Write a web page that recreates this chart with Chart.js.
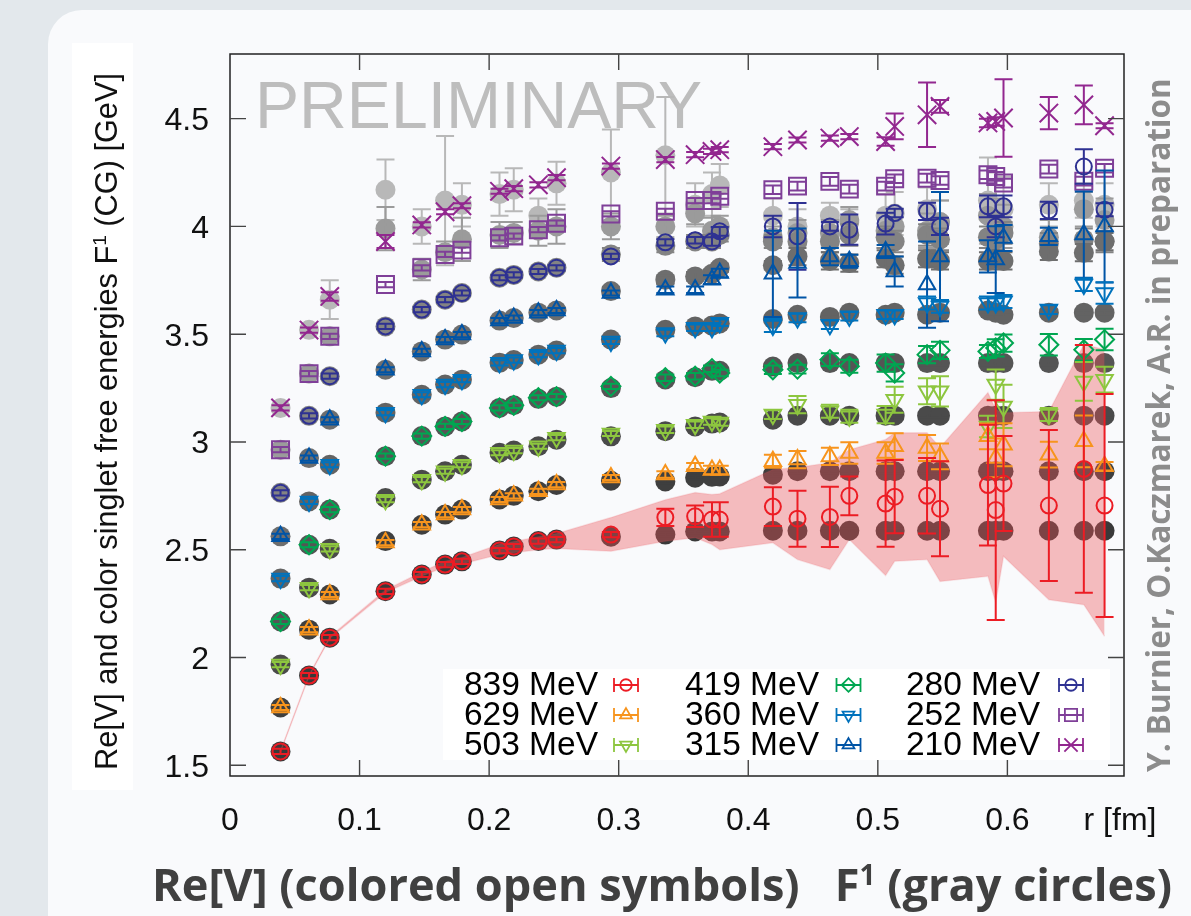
<!DOCTYPE html>
<html>
<head>
<meta charset="utf-8">
<script src="https://cdn.jsdelivr.net/npm/chart.js@4.4.1/dist/chart.umd.min.js"></script>
<style>
  html, body { margin: 0; padding: 0; background: #e3e8ec; }
  body { width: 1191px; height: 916px; position: relative; overflow: hidden; }
  #panel { position: absolute; left: 48px; top: 10px; width: 1200px; height: 960px;
           background: #f9fafc; border-top-left-radius: 34px; }
  #chart { position: absolute; left: 0; top: 0; }
</style>
</head>
<body>
<div id="panel"></div>
<canvas id="chart" width="1191" height="916"></canvas>
<script>
// separations r [fm] shared by all temperatures
const R = [0.039, 0.061, 0.077, 0.120, 0.148, 0.166, 0.179, 0.208, 0.219, 0.238,
           0.252, 0.294, 0.336, 0.359, 0.372, 0.378, 0.419, 0.438, 0.463, 0.478,
           0.506, 0.513, 0.538, 0.548, 0.585, 0.591, 0.597, 0.632, 0.659, 0.675];

const X_TICKS = [0, 0.1, 0.2, 0.3, 0.4, 0.5, 0.6];
const Y_TICKS = [1.5, 2, 2.5, 3, 3.5, 4, 4.5];

// Re[V] (open symbols) and errors
const RE_839 = [1.564, 1.916, 2.092, 2.307, 2.385, 2.431, 2.446, 2.496, 2.515, 2.540, 2.547, 2.570, 2.650, 2.655, 2.640, 2.640, 2.700, 2.644, 2.652, 2.750, 2.714, 2.746, 2.750, 2.690, 2.800, 2.684, 2.807, 2.705, 2.875, 2.705];
const ERR_839 = [0.012, 0.012, 0.012, 0.012, 0.012, 0.012, 0.012, 0.012, 0.012, 0.012, 0.012, 0.012, 0.04, 0.05, 0.08, 0.08, 0.09, 0.13, 0.14, 0.09, 0.20, 0.17, 0.175, 0.22, 0.28, 0.51, 0.22, 0.35, 0.575, 0.517];
const RE_629 = [1.768, 2.129, 2.292, 2.533, 2.616, 2.663, 2.686, 2.733, 2.750, 2.771, 2.802, 2.835, 2.849, 2.887, 2.870, 2.870, 2.910, 2.918, 2.933, 2.949, 2.949, 2.980, 2.972, 2.933, 3.026, 2.926, 2.987, 2.941, 3.003, 2.887];
const ERR_629 = [0.012, 0.012, 0.012, 0.012, 0.012, 0.012, 0.012, 0.012, 0.012, 0.012, 0.012, 0.012, 0.015, 0.015, 0.02, 0.02, 0.03, 0.04, 0.04, 0.05, 0.05, 0.06, 0.06, 0.06, 0.06, 0.09, 0.10, 0.06, 0.12, 0.02];
const RE_503 = [1.967, 2.324, 2.504, 2.732, 2.825, 2.864, 2.894, 2.950, 2.960, 2.980, 3.020, 3.039, 3.057, 3.080, 3.095, 3.090, 3.127, 3.173, 3.142, 3.119, 3.127, 3.196, 3.235, 3.235, 3.072, 3.266, 3.165, 3.127, 3.281, 3.289];
const ERR_503 = [0.012, 0.012, 0.012, 0.012, 0.012, 0.012, 0.012, 0.012, 0.012, 0.012, 0.012, 0.012, 0.015, 0.015, 0.015, 0.015, 0.02, 0.04, 0.03, 0.03, 0.04, 0.06, 0.06, 0.07, 0.05, 0.07, 0.10, 0.03, 0.09, 0.06];
const RE_419 = [2.167, 2.523, 2.686, 2.934, 3.027, 3.072, 3.095, 3.158, 3.170, 3.205, 3.210, 3.258, 3.298, 3.305, 3.340, 3.320, 3.335, 3.338, 3.382, 3.351, 3.366, 3.320, 3.405, 3.425, 3.420, 3.436, 3.459, 3.451, 3.428, 3.475];
const ERR_419 = [0.012, 0.012, 0.012, 0.012, 0.012, 0.012, 0.012, 0.012, 0.012, 0.012, 0.012, 0.012, 0.015, 0.015, 0.015, 0.015, 0.02, 0.02, 0.03, 0.03, 0.04, 0.04, 0.04, 0.04, 0.03, 0.04, 0.04, 0.05, 0.05, 0.05];
const RE_360 = [2.366, 2.724, 2.894, 3.136, 3.219, 3.266, 3.289, 3.367, 3.380, 3.405, 3.424, 3.466, 3.505, 3.530, 3.530, 3.553, 3.540, 3.575, 3.544, 3.583, 3.590, 3.590, 3.645, 3.629, 3.645, 3.645, 3.652, 3.614, 3.730, 3.691];
const ERR_360 = [0.012, 0.012, 0.012, 0.012, 0.012, 0.012, 0.012, 0.012, 0.012, 0.012, 0.012, 0.012, 0.015, 0.015, 0.015, 0.015, 0.03, 0.02, 0.02, 0.02, 0.02, 0.02, 0.03, 0.03, 0.03, 0.03, 0.03, 0.02, 0.03, 0.05];
const RE_315 = [2.562, 2.925, 3.103, 3.335, 3.420, 3.475, 3.498, 3.563, 3.575, 3.600, 3.610, 3.691, 3.706, 3.706, 3.753, 3.784, 3.780, 3.830, 3.860, 3.838, 3.884, 3.791, 3.730, 3.860, 3.861, 3.846, 3.946, 3.954, 3.962, 4.000];
const ERR_315 = [0.012, 0.012, 0.012, 0.012, 0.012, 0.012, 0.012, 0.012, 0.012, 0.012, 0.012, 0.012, 0.015, 0.015, 0.02, 0.02, 0.20, 0.16, 0.04, 0.03, 0.03, 0.07, 0.20, 0.30, 0.075, 0.155, 0.06, 0.04, 0.20, 0.26];
const RE_280 = [2.764, 3.121, 3.305, 3.536, 3.614, 3.660, 3.691, 3.762, 3.775, 3.791, 3.808, 3.861, 3.926, 3.936, 3.930, 3.977, 4.000, 3.954, 4.000, 3.985, 4.013, 4.062, 4.070, 4.000, 4.093, 4.000, 4.093, 4.074, 4.278, 4.077];
const ERR_280 = [0.012, 0.012, 0.012, 0.012, 0.012, 0.012, 0.012, 0.012, 0.012, 0.012, 0.012, 0.012, 0.015, 0.015, 0.02, 0.02, 0.05, 0.155, 0.02, 0.07, 0.05, 0.02, 0.04, 0.04, 0.05, 0.05, 0.05, 0.04, 0.08, 0.03];
const RE_252 = [2.964, 3.317, 3.490, 3.730, 3.808, 3.870, 3.890, 3.947, 3.955, 3.985, 4.015, 4.058, 4.070, 4.120, 4.120, 4.140, 4.170, 4.187, 4.209, 4.173, 4.187, 4.221, 4.224, 4.213, 4.240, 4.232, 4.201, 4.266, 4.210, 4.270];
const ERR_252 = [0.012, 0.012, 0.012, 0.012, 0.012, 0.012, 0.012, 0.012, 0.012, 0.012, 0.012, 0.012, 0.012, 0.012, 0.012, 0.012, 0.02, 0.02, 0.02, 0.02, 0.02, 0.02, 0.02, 0.02, 0.02, 0.02, 0.02, 0.02, 0.02, 0.02];
const RE_210 = [3.158, 3.519, 3.675, 3.930, 4.007, 4.068, 4.096, 4.163, 4.175, 4.193, 4.226, 4.280, 4.310, 4.333, 4.348, 4.356, 4.370, 4.401, 4.410, 4.417, 4.394, 4.464, 4.518, 4.557, 4.480, 4.487, 4.503, 4.526, 4.564, 4.467];
const ERR_210 = [0.012, 0.012, 0.02, 0.03, 0.012, 0.012, 0.012, 0.012, 0.012, 0.012, 0.012, 0.012, 0.012, 0.012, 0.012, 0.012, 0.012, 0.012, 0.012, 0.012, 0.02, 0.06, 0.15, 0.03, 0.02, 0.02, 0.18, 0.075, 0.09, 0.012];

// F1 color singlet free energies (gray filled circles)
const F1_839 = [1.564, 1.916, 2.092, 2.307, 2.385, 2.431, 2.446, 2.496, 2.515, 2.540, 2.547, 2.560, 2.570, 2.585, 2.585, 2.585, 2.588, 2.588, 2.588, 2.588, 2.588, 2.588, 2.588, 2.588, 2.588, 2.588, 2.588, 2.588, 2.588, 2.588];
const F1_629 = [1.768, 2.129, 2.292, 2.540, 2.616, 2.663, 2.686, 2.733, 2.750, 2.771, 2.800, 2.820, 2.817, 2.834, 2.838, 2.840, 2.848, 2.864, 2.864, 2.864, 2.864, 2.864, 2.864, 2.864, 2.864, 2.864, 2.864, 2.864, 2.864, 2.864];
const F1_503 = [1.967, 2.324, 2.504, 2.740, 2.825, 2.864, 2.894, 2.950, 2.960, 2.980, 3.010, 3.026, 3.050, 3.072, 3.085, 3.090, 3.103, 3.122, 3.122, 3.122, 3.122, 3.122, 3.122, 3.122, 3.122, 3.122, 3.122, 3.122, 3.122, 3.122];
const F1_419 = [2.167, 2.523, 2.686, 2.934, 3.027, 3.072, 3.095, 3.158, 3.170, 3.200, 3.210, 3.250, 3.290, 3.300, 3.330, 3.330, 3.350, 3.366, 3.366, 3.366, 3.366, 3.366, 3.366, 3.366, 3.366, 3.366, 3.366, 3.366, 3.366, 3.366];
const F1_360 = [2.366, 2.724, 2.894, 3.136, 3.219, 3.266, 3.289, 3.367, 3.380, 3.405, 3.424, 3.475, 3.520, 3.536, 3.540, 3.550, 3.570, 3.590, 3.580, 3.600, 3.590, 3.600, 3.590, 3.600, 3.610, 3.600, 3.590, 3.600, 3.600, 3.600];
const F1_315 = [2.562, 2.925, 3.103, 3.335, 3.420, 3.475, 3.498, 3.563, 3.575, 3.600, 3.610, 3.700, 3.753, 3.768, 3.780, 3.808, 3.820, 3.860, 3.840, 3.830, 3.850, 3.820, 3.850, 3.840, 3.840, 3.850, 3.840, 3.884, 3.878, 3.930];
const F1ERR_315 = [0.01, 0.01, 0.01, 0.01, 0.01, 0.01, 0.01, 0.01, 0.01, 0.01, 0.01, 0.02, 0.02, 0.02, 0.02, 0.02, 0.02, 0.04, 0.04, 0.04, 0.04, 0.04, 0.04, 0.04, 0.04, 0.04, 0.04, 0.04, 0.04, 0.04];
const F1_280 = [2.764, 3.121, 3.305, 3.536, 3.614, 3.660, 3.691, 3.762, 3.775, 3.791, 3.808, 3.870, 3.910, 3.930, 3.930, 3.960, 3.930, 3.930, 3.930, 3.960, 3.950, 3.930, 3.960, 3.940, 3.950, 3.940, 3.970, 3.920, 3.940, 3.930];
const F1ERR_280 = [0.01, 0.01, 0.01, 0.01, 0.01, 0.01, 0.01, 0.01, 0.01, 0.01, 0.01, 0.03, 0.03, 0.03, 0.03, 0.03, 0.03, 0.05, 0.05, 0.05, 0.05, 0.05, 0.05, 0.05, 0.05, 0.05, 0.05, 0.05, 0.05, 0.05];
const F1_252 = [2.964, 3.317, 3.490, 3.990, 3.800, 3.880, 3.940, 3.960, 3.970, 3.980, 4.000, 4.000, 4.000, 4.060, 3.980, 4.000, 3.950, 3.970, 3.970, 4.030, 3.980, 4.000, 3.980, 4.020, 4.050, 4.030, 4.000, 3.950, 4.080, 4.030];
const F1ERR_252 = [0.01, 0.01, 0.02, 0.10, 0.05, 0.05, 0.10, 0.06, 0.05, 0.07, 0.08, 0.06, 0.05, 0.05, 0.06, 0.05, 0.05, 0.06, 0.06, 0.06, 0.08, 0.08, 0.08, 0.10, 0.10, 0.10, 0.10, 0.08, 0.08, 0.10];
const F1_210 = [3.158, 3.520, 3.660, 4.170, 4.000, 4.120, 4.100, 4.150, 4.170, 4.050, 4.200, 4.250, 4.330, 4.100, 4.150, 4.190, 4.050, 4.000, 4.050, 4.020, 4.050, 4.060, 4.080, 4.020, 4.120, 4.050, 4.080, 4.100, 4.120, 4.100];
const F1ERR_210 = [0.01, 0.01, 0.09, 0.14, 0.08, 0.30, 0.10, 0.10, 0.10, 0.08, 0.10, 0.20, 0.27, 0.10, 0.10, 0.10, 0.08, 0.08, 0.06, 0.06, 0.10, 0.10, 0.10, 0.10, 0.20, 0.20, 0.15, 0.10, 0.08, 0.10];

// pink band (839 MeV)
const BAND_R  = [0.039, 0.061, 0.077, 0.120, 0.148, 0.166, 0.179, 0.208, 0.238, 0.252, 0.294, 0.336, 0.359, 0.372, 0.378, 0.419, 0.438, 0.463, 0.478, 0.506, 0.513, 0.538, 0.548, 0.585, 0.591, 0.597, 0.632, 0.659, 0.675];
const BAND_HI = [1.567, 1.919, 2.096, 2.313, 2.397, 2.447, 2.464, 2.525, 2.560, 2.575, 2.649, 2.732, 2.765, 2.756, 2.760, 2.872, 2.881, 2.904, 2.964, 3.011, 3.043, 3.043, 2.974, 3.229, 3.150, 3.136, 3.141, 3.452, 3.429];
const BAND_LO = [1.561, 1.913, 2.088, 2.301, 2.377, 2.421, 2.434, 2.478, 2.500, 2.505, 2.493, 2.539, 2.556, 2.524, 2.500, 2.532, 2.454, 2.408, 2.547, 2.380, 2.446, 2.454, 2.353, 2.377, 2.255, 2.469, 2.268, 2.245, 2.098];

const SERIES = [
  { label: '839 MeV', re: RE_839, err: ERR_839, f1: F1_839, f1err: null, color: '#ec1c24', gray: '#393939', style: 'circle', rot: 0, size: 8 },
  { label: '629 MeV', re: RE_629, err: ERR_629, f1: F1_629, f1err: null, color: '#f7941d', gray: '#3f3f3f', style: 'triangle', rot: 0, size: 9.5 },
  { label: '503 MeV', re: RE_503, err: ERR_503, f1: F1_503, f1err: null, color: '#8dc63f', gray: '#4a4a4a', style: 'triangle', rot: 180, size: 9.5 },
  { label: '419 MeV', re: RE_419, err: ERR_419, f1: F1_419, f1err: null, color: '#00a651', gray: '#555555', style: 'rectRot', rot: 0, size: 9.5 },
  { label: '360 MeV', re: RE_360, err: ERR_360, f1: F1_360, f1err: null, color: '#0072bc', gray: '#636363', style: 'triangle', rot: 180, size: 9.5 },
  { label: '315 MeV', re: RE_315, err: ERR_315, f1: F1_315, f1err: F1ERR_315, color: '#0054a6', gray: '#6e6e6e', style: 'triangle', rot: 0, size: 9.5 },
  { label: '280 MeV', re: RE_280, err: ERR_280, f1: F1_280, f1err: F1ERR_280, color: '#2e3192', gray: '#838383', style: 'circle', rot: 0, size: 8 },
  { label: '252 MeV', re: RE_252, err: ERR_252, f1: F1_252, f1err: F1ERR_252, color: '#7f3f98', gray: '#9b9b9b', style: 'rect', rot: 0, size: 12 },
  { label: '210 MeV', re: RE_210, err: ERR_210, f1: F1_210, f1err: F1ERR_210, color: '#92278f', gray: '#b8b8b8', style: 'crossRot', rot: 0, size: 13 }
];

const TICK = 16;

function points(ys, es) {
  return R.map((x, i) => ({ x: x, y: ys[i], e: es ? es[i] : 0.01 }));
}

function richWidth(c, parts, size, fam, weight) {
  let w = 0;
  parts.forEach(p => {
    c.font = weight + ' ' + (p.sup ? size * 0.62 : size) + 'px ' + fam;
    w += c.measureText(p.t).width;
  });
  return w;
}

function drawRich(c, parts, x, y, size, fam, weight) {
  parts.forEach(p => {
    c.font = weight + ' ' + (p.sup ? size * 0.62 : size) + 'px ' + fam;
    c.fillText(p.t, x, p.sup ? y - size * 0.36 : y);
    x += c.measureText(p.t).width;
  });
}

function fitText(c, parts, x, y, target, fam, weight) {
  const size = 100 * target / richWidth(c, parts, 100, fam, weight);
  c.textAlign = 'left';
  c.textBaseline = 'alphabetic';
  drawRich(c, parts, x, y, size, fam, weight);
}

function marker(c, style, rot, r, x, y) {
  c.beginPath();
  if (style === 'circle') {
    c.arc(x, y, r, 0, Math.PI * 2);
  } else if (style === 'triangle') {
    const s = rot ? -1 : 1;
    c.moveTo(x, y - s * r);
    c.lineTo(x + r * 0.866, y + s * r * 0.5);
    c.lineTo(x - r * 0.866, y + s * r * 0.5);
    c.closePath();
  } else if (style === 'rectRot') {
    c.moveTo(x - r, y); c.lineTo(x, y - r); c.lineTo(x + r, y); c.lineTo(x, y + r);
    c.closePath();
  } else if (style === 'rect') {
    const h = r * Math.SQRT1_2;
    c.rect(x - h, y - h, 2 * h, 2 * h);
  } else {
    const h = r * Math.SQRT1_2;
    c.moveTo(x - h, y - h); c.lineTo(x + h, y + h);
    c.moveTo(x + h, y - h); c.lineTo(x - h, y + h);
  }
  c.stroke();
}

const errorBars = {
  id: 'errorBars',
  afterDatasetDraw(chart, args) {
    const ds = chart.data.datasets[args.index];
    if (!ds.errColor) return;
    const ys = chart.scales.y, c = chart.ctx, hw = ds.capHalf;
    c.save();
    c.strokeStyle = ds.errColor;
    c.lineWidth = 2;
    c.beginPath();
    args.meta.data.forEach((pt, i) => {
      const d = ds.data[i];
      if (!d.e) return;
      const y1 = ys.getPixelForValue(d.y + d.e), y2 = ys.getPixelForValue(d.y - d.e);
      c.moveTo(pt.x, y1); c.lineTo(pt.x, y2);
      c.moveTo(pt.x - hw, y1); c.lineTo(pt.x + hw, y1);
      c.moveTo(pt.x - hw, y2); c.lineTo(pt.x + hw, y2);
    });
    c.stroke();
    c.restore();
  }
};

const decor = {
  id: 'decor',
  beforeDraw(chart) {
    const c = chart.ctx;
    c.save();
    c.fillStyle = '#ffffff';
    c.fillRect(72, 43, 61, 747);
    c.fillStyle = '#111';
    c.translate(117, 770);
    c.rotate(-Math.PI / 2);
    fitText(c, [{ t: 'Re[V] and color singlet free energies F' }, { t: '1', sup: true }, { t: ' (CG) [GeV]' }],
            0, 0, 697, '"Liberation Sans", Arial, sans-serif', 'normal');
    c.restore();
  },
  beforeDatasetsDraw(chart) {
    const c = chart.ctx;
    c.save();
    c.fillStyle = '#bdbdbd';
    fitText(c, [{ t: 'PRELIMINARY' }], 255, 128, 447, '"Liberation Sans", Arial, sans-serif', 'normal');
    c.restore();
  },
  afterDatasetsDraw(chart) {
    const c = chart.ctx, a = chart.chartArea, xs = chart.scales.x, ys = chart.scales.y;
    c.save();
    c.strokeStyle = '#222';
    c.lineWidth = 1.5;
    c.strokeRect(a.left, a.top, a.right - a.left, a.bottom - a.top);
    c.strokeStyle = '#444';
    c.lineWidth = 1.4;
    c.beginPath();
    X_TICKS.forEach(v => {
      if (v === 0) return;
      const px = xs.getPixelForValue(v);
      c.moveTo(px, a.bottom); c.lineTo(px, a.bottom - TICK);
      c.moveTo(px, a.top); c.lineTo(px, a.top + TICK);
    });
    Y_TICKS.forEach(v => {
      const py = ys.getPixelForValue(v);
      c.moveTo(a.left, py); c.lineTo(a.left + TICK, py);
      c.moveTo(a.right, py); c.lineTo(a.right - TICK, py);
    });
    c.stroke();

    c.fillStyle = '#111';
    c.font = '32px "Liberation Sans", Arial, sans-serif';
    c.textBaseline = 'middle';
    c.textAlign = 'right';
    Y_TICKS.forEach(v => c.fillText(String(v), a.left - 21, ys.getPixelForValue(v) + 2.5));
    c.textAlign = 'center';
    X_TICKS.forEach(v => c.fillText(String(v), xs.getPixelForValue(v), 821));
    c.fillText('r [fm]', 1120, 821);

    // key
    c.fillStyle = '#ffffff';
    c.fillRect(443, 669, 667, 91);
    SERIES.forEach((s, i) => {
      const col = Math.floor(i / 3), row = i % 3;
      const tx = 598 + col * 221, sx = 626 + col * 222.5, y = 685 + row * 30;
      c.fillStyle = '#000';
      c.font = '33.5px "Liberation Sans", Arial, sans-serif';
      c.textAlign = 'right';
      c.textBaseline = 'middle';
      c.fillText(s.label, tx, y + 1);
      c.strokeStyle = s.color;
      c.lineWidth = 1.8;
      c.beginPath();
      c.moveTo(sx - 12, y); c.lineTo(sx + 12, y);
      c.moveTo(sx - 12, y - 7); c.lineTo(sx - 12, y + 7);
      c.moveTo(sx + 12, y - 7); c.lineTo(sx + 12, y + 7);
      c.stroke();
      marker(c, s.style, s.rot, s.size * 0.72, sx, y);
    });

    // titles
    c.fillStyle = '#404040';
    fitText(c, [{ t: 'Re[V] (colored open symbols)   F' }, { t: '1', sup: true }, { t: ' (gray circles)' }],
            152, 901, 1020, '"Open Sans", "Liberation Sans", sans-serif', 'bold');
    c.fillStyle = '#8c8c8c';
    c.translate(1170, 772);
    c.rotate(-Math.PI / 2);
    fitText(c, [{ t: 'Y. Burnier, O.Kaczmarek, A.R. in preparation' }], 0, 0, 694,
            '"Open Sans", "Liberation Sans", sans-serif', 'bold');
    c.restore();
  }
};

const datasets = [];
SERIES.forEach(s => {
  datasets.push({
    type: 'scatter', label: 'F1 ' + s.label, data: points(s.f1, s.f1err), order: 3,
    pointStyle: 'circle', pointRadius: 10, pointBackgroundColor: s.gray, pointBorderWidth: 0,
    errColor: s.gray, capHalf: 9
  });
});
datasets.push({
  type: 'line', label: 'band lo', data: BAND_R.map((x, i) => ({ x: x, y: BAND_LO[i] })), order: 2,
  borderColor: 'rgba(237,83,90,0.14)', borderWidth: 1.5, pointRadius: 0, tension: 0, fill: false
});
datasets.push({
  type: 'line', label: 'band hi', data: BAND_R.map((x, i) => ({ x: x, y: BAND_HI[i] })), order: 2,
  borderColor: 'rgba(237,83,90,0.14)', borderWidth: 1.5, pointRadius: 0, tension: 0,
  fill: '-1', backgroundColor: 'rgba(237,83,90,0.38)'
});
SERIES.forEach(s => {
  datasets.push({
    type: 'scatter', label: s.label, data: points(s.re, s.err), order: 1,
    pointStyle: s.style, pointRotation: s.rot, pointRadius: s.size,
    pointBackgroundColor: 'rgba(0,0,0,0)', pointBorderColor: s.color, pointBorderWidth: 2,
    errColor: s.color, capHalf: 9
  });
});

new Chart(document.getElementById('chart').getContext('2d'), {
  type: 'scatter',
  data: { datasets: datasets },
  options: {
    responsive: false,
    animation: false,
    devicePixelRatio: 1,
    events: [],
    layout: { padding: { left: 0, top: 54, right: 67, bottom: 0 } },
    plugins: { legend: { display: false }, tooltip: { enabled: false }, title: { display: false } },
    scales: {
      x: {
        type: 'linear', min: 0, max: 0.69,
        grid: { display: false, drawTicks: false }, border: { display: false },
        ticks: { display: false },
        afterFit: s => { s.height = 140; }
      },
      y: {
        type: 'linear', min: 1.45, max: 4.8,
        grid: { display: false, drawTicks: false }, border: { display: false },
        ticks: { display: false },
        afterFit: s => { s.width = 230; }
      }
    }
  },
  plugins: [errorBars, decor]
});
</script>
</body>
</html>
